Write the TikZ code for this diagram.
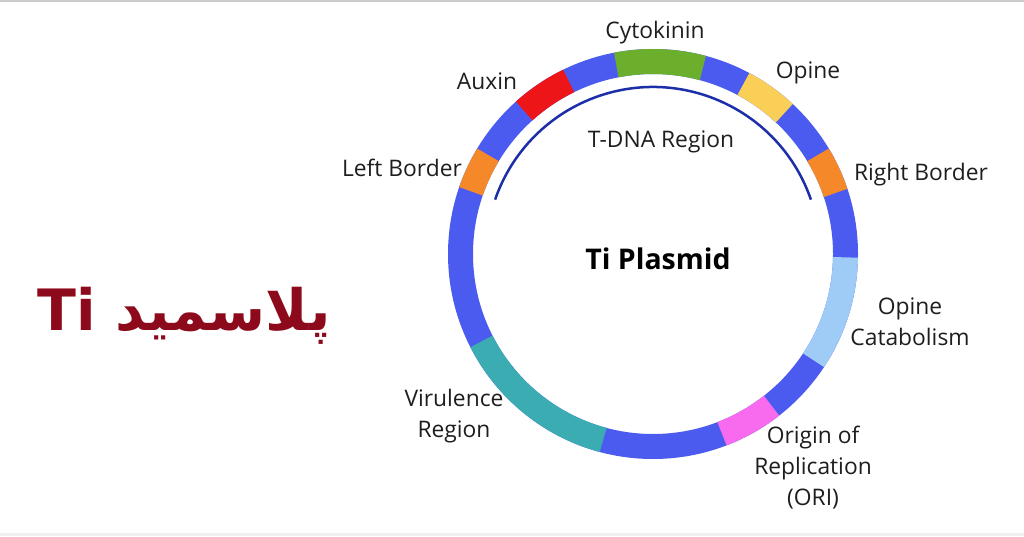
\documentclass[tikz,border=0pt]{standalone}
\usepackage{fontspec}
\setmainfont{Open Sans}
\newfontfamily\persianfont[Script=Arabic]{DejaVu Sans}
\TeXXeTstate=1
\definecolor{ringblue}{HTML}{4B5BEF}
\definecolor{orangeseg}{HTML}{F5892A}
\definecolor{yellowseg}{HTML}{F9CF58}
\definecolor{greenseg}{HTML}{6BAF2C}
\definecolor{redseg}{HTML}{EE1518}
\definecolor{tealseg}{HTML}{3AACB2}
\definecolor{pinkseg}{HTML}{F86BEE}
\definecolor{skyseg}{HTML}{9FCBF7}
\definecolor{tdnablue}{HTML}{1C2EA8}
\definecolor{labelgray}{HTML}{1E1E1E}
\definecolor{titlered}{HTML}{8C0A1C}
\tikzset{
  lbl/.style={font=\fontsize{22.8}{31}\selectfont, text=labelgray, align=center, inner sep=0pt},
  seg/.style={line width=25pt}
}
\begin{document}
\begin{tikzpicture}[x=1pt,y=1pt]
\useasboundingbox (0,0) rectangle (1024,536);
\fill[white] (0,0) rectangle (1024,536);
\draw[gray!40, line width=1.5pt] (0,535.2) -- (1024,535.2);
\fill[gray!12] (0,0) rectangle (1024,3);
\coordinate (ctr) at (653,282);
\draw[seg, ringblue] (ctr) circle (192.5);
\foreach \a/\b/\c in {18.5/31/orangeseg, 47/62/yellowseg, 75/101/greenseg, 116/132/redseg,
    149/161/orangeseg, 207/255/tealseg, 291/308/pinkseg, 326.5/359/skyseg}
  \draw[seg, \c] (ctr) ++(\a:192.5) arc[start angle=\a, end angle=\b, radius=192.5];
\draw[tdnablue, line width=2.5pt] (ctr) ++(19:167) arc[start angle=19, end angle=161, radius=167];
\node (cyto) [lbl] at (655,503) {Cytokinin};
\node (auxin) [lbl] at (487,455) {Auxin};
\node (opine) [lbl] at (808,463) {Opine};
\node (tdna) [lbl] at (661,394) {T-DNA Region};
\node (lborder) [lbl] at (402,368) {Left Border};
\node (rborder) [lbl] at (921,361) {Right Border};
\node (title) [lbl, font=\bfseries\fontsize{28.5}{32}\selectfont, text=black] at (658,277) {Ti Plasmid};
\node (opcat) [lbl] at (910,214.5) {Opine\\Catabolism};
\node (vir) [lbl] at (454,119.5) {Virulence\\Region};
\node (ori) [lbl] at (813,68.5) {Origin of\\Replication\\(ORI)};
\node (fa) [inner sep=0pt, text=titlered, font=\persianfont\bfseries\fontsize{57}{60}\selectfont]
  at (184,220) {\beginR پلاسمید \beginL Ti\endL\endR};
\end{tikzpicture}
\end{document}
